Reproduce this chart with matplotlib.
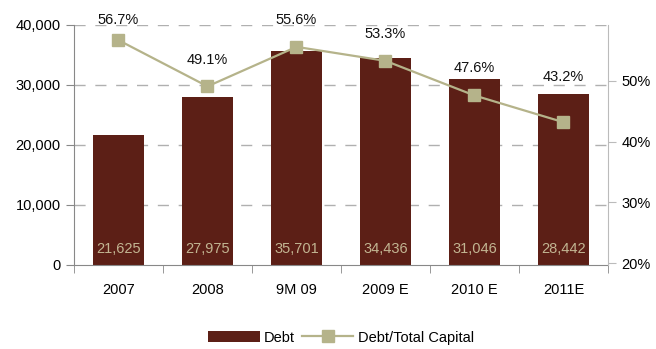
import matplotlib.pyplot as plt
import numpy as np
from matplotlib.ticker import FuncFormatter

categories = ['2007', '2008', '9M 09', '2009 E', '2010 E', '2011E']
debt = [21625, 27975, 35701, 34436, 31046, 28442]
debt_ratio = [56.7, 49.1, 55.6, 53.3, 47.6, 43.2]
# vertical offset (points) of each ratio label above its marker
label_offsets = [14.5, 19, 19, 19.5, 19.5, 32.5]

bar_color = '#5c1f16'
line_color = '#b5b38a'
grid_color = '#b0b0b0'

plt.rcParams['font.family'] = ['Liberation Sans', 'DejaVu Sans']

fig = plt.figure(figsize=(6.56, 3.49), dpi=100)
ax = fig.add_axes([0.1128, 0.2407, 0.814, 0.6877])
x = np.arange(len(categories))

bars = ax.bar(x, debt, width=0.57, color=bar_color, label='Debt', zorder=2)
ax.set_xlim(-0.5, len(categories) - 0.5)
ax.set_ylim(0, 40000)
ax.set_yticks([0, 10000, 20000, 30000, 40000])
ax.yaxis.set_major_formatter(FuncFormatter(lambda v, p: f'{v:,.0f}'))
for y in [10000, 20000, 30000, 40000]:
    ax.axhline(y, color=grid_color, lw=1, ls=(0, (8, 7)), zorder=1)

for xi, v in zip(x, debt):
    ax.text(xi, 2600, f'{v:,}', ha='center', va='center',
            color='#c2b592', fontsize=10.5)

ax.set_xticks(x)
ax.set_xticklabels(categories)
ax.set_xticks(np.arange(-0.5, len(categories)), minor=True)
ax.tick_params(axis='x', which='major', length=0, pad=13, labelsize=10.5)
ax.tick_params(axis='x', which='minor', length=6, color='#888888')
ax.tick_params(axis='y', length=6, color='#888888', labelsize=10.5)
for s in ['top', 'right']:
    ax.spines[s].set_visible(False)
ax.spines['left'].set_color('#888888')
ax.spines['bottom'].set_color('#888888')

ax2 = ax.twinx()
line, = ax2.plot(x, debt_ratio, color=line_color, lw=1.6, marker='s',
                 markersize=8, markerfacecolor=line_color,
                 markeredgecolor=line_color, label='Debt/Total Capital',
                 zorder=3)
ax2.set_ylim(19.7, 59.2)
ax2.set_yticks([20, 30, 40, 50])
ax2.yaxis.set_major_formatter(FuncFormatter(lambda v, p: f'{v:.0f}%'))
ax2.tick_params(axis='y', length=6, color='#bbbbbb', labelsize=10.5)
for s in ['top', 'left', 'bottom']:
    ax2.spines[s].set_visible(False)
ax2.spines['right'].set_color('#bbbbbb')

for xi, v, off in zip(x, debt_ratio, label_offsets):
    ax2.annotate(f'{v:.1f}%', (xi, v), xytext=(0, off),
                 textcoords='offset points', ha='center', va='center',
                 fontsize=10.5, color='#111111', annotation_clip=False)

fig.legend([bars, line], ['Debt', 'Debt/Total Capital'], loc='lower center',
           bbox_to_anchor=(0.52, -0.025), ncol=2, frameon=False, fontsize=10.5,
           handlelength=3.5, handletextpad=0.3, columnspacing=0.5)

fig.savefig('out.png', dpi=100)
